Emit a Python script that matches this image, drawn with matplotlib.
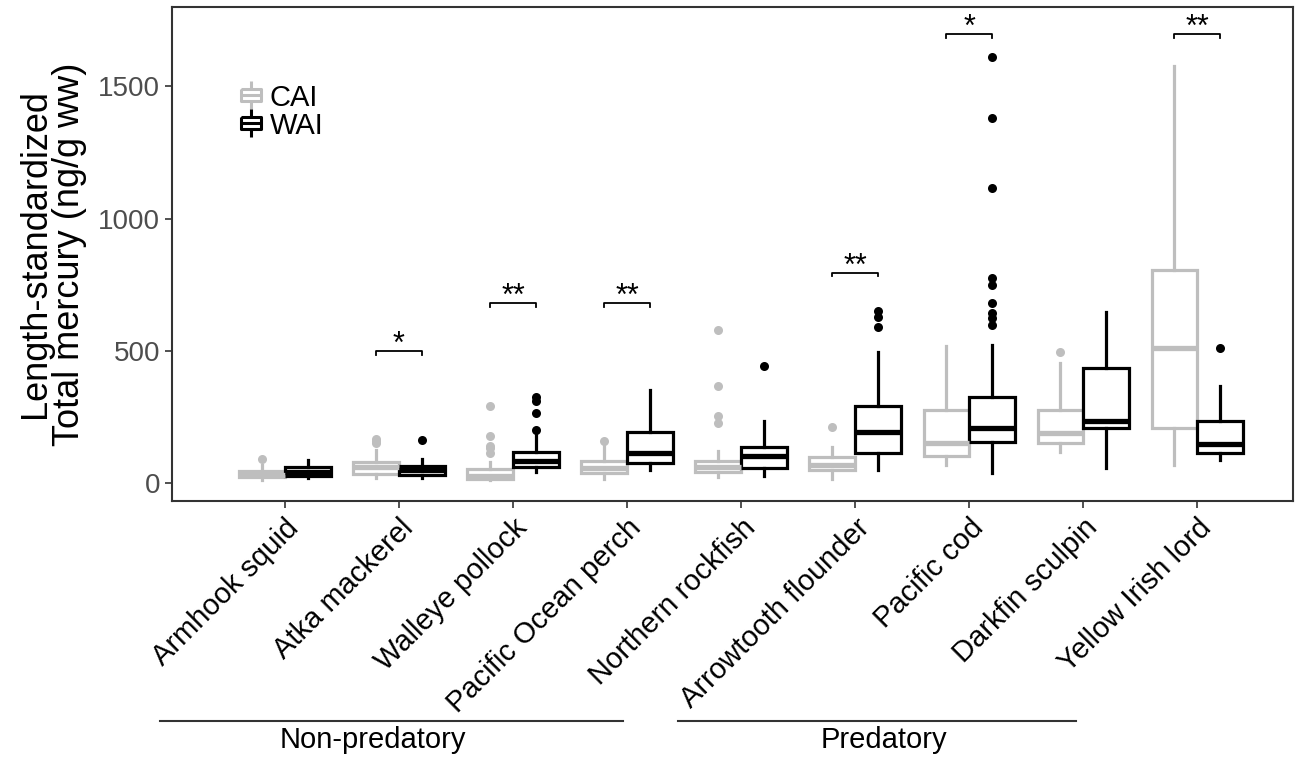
import numpy as np
import matplotlib
matplotlib.use("Agg")
import matplotlib.pyplot as plt
from matplotlib.lines import Line2D
from matplotlib.path import Path

plt.rcParams["font.family"] = ["Liberation Sans", "DejaVu Sans"]

species = ["Armhook squid", "Atka mackerel", "Walleye pollock", "Pacific Ocean perch",
           "Northern rockfish", "Arrowtooth flounder", "Pacific cod", "Darkfin sculpin",
           "Yellow Irish lord"]

# CAI box statistics (ng/g ww)
cai_lo = [11, 19, 10, 14, 24, 15, 68, 116, 68]
cai_q1 = [22, 33, 15, 39, 42, 49, 102, 150, 209]
cai_med = [30, 60, 25, 58, 60, 68, 150, 190, 512]
cai_q3 = [46, 81, 52, 83, 84, 97, 276, 276, 807]
cai_hi = [68, 125, 81, 145, 121, 137, 520, 453, 1576]
cai_out = [[91], [150, 158, 165], [115, 131, 141, 177, 292], [157],
           [228, 255, 367, 579], [213], [], [497], []]

# WAI box statistics
wai_lo = [18, 18, 43, 49, 27, 49, 39, 56, 87]
wai_q1 = [26, 30, 59, 77, 56, 112, 156, 207, 115]
wai_med = [42, 48, 85, 112, 102, 192, 207, 236, 148]
wai_q3 = [62, 64, 117, 194, 137, 293, 327, 434, 235]
wai_hi = [87, 91, 190, 352, 236, 497, 523, 645, 365]
wai_out = [[], [163], [200, 266, 312, 324], [], [443], [590, 626, 652],
           [598, 624, 642, 680, 747, 775, 1116, 1381, 1610], [], [512]]

# significance brackets
sig_idx = [1, 2, 3, 5, 6, 8]
sig_lab = ["*", "**", "**", "**", "*", "**"]
sig_y = [500, 680, 680, 796, 1699, 1699]

GRAY = "#bebebe"
BLACK = "#000000"


def stats_for(lo, q1, med, q3, hi, out):
    return [dict(whislo=a, q1=b, med=c, q3=d, whishi=e, fliers=f)
            for a, b, c, d, e, f in zip(lo, q1, med, q3, hi, out)]


def draw(ax, stats, pos, color):
    ax.bxp(stats, positions=pos, widths=0.4, showcaps=False, patch_artist=True,
           boxprops=dict(facecolor="white", edgecolor=color, linewidth=2.3),
           medianprops=dict(color=color, linewidth=3.8),
           whiskerprops=dict(color=color, linewidth=2.3),
           flierprops=dict(marker="o", markerfacecolor=color, markeredgecolor="none",
                           markersize=6.5), manage_ticks=False)


fig = plt.figure(figsize=(12.95, 7.57), dpi=100)
ax = fig.add_axes([172 / 1295, 1 - 501 / 757, 1121 / 1295, 494 / 757])

x = np.arange(1, len(species) + 1)
draw(ax, stats_for(cai_lo, cai_q1, cai_med, cai_q3, cai_hi, cai_out), x - 0.2, GRAY)
draw(ax, stats_for(wai_lo, wai_q1, wai_med, wai_q3, wai_hi, wai_out), x + 0.2, BLACK)

for i, lab, y in zip(sig_idx, sig_lab, sig_y):
    xc = x[i]
    ax.plot([xc - 0.2, xc - 0.2, xc + 0.2, xc + 0.2], [y - 15, y, y, y - 15],
            color="black", lw=1.3)
    ax.annotate(lab, (xc, y), xytext=(0, -1.5), textcoords="offset points",
                ha="center", va="baseline", fontsize=22)

ax.set_xlim(0.01, 9.84)
ax.set_ylim(-68, 1800)
ax.set_yticks([0, 500, 1000, 1500])
ax.set_xticks(x)
ax.set_xticklabels(species, rotation=45, ha="right", va="top",
                   rotation_mode="anchor", fontsize=21)
ax.tick_params(axis="y", labelsize=20, labelcolor="#4d4d4d", color="#333333",
               length=5, width=1.2)
ax.tick_params(axis="x", color="#333333", length=5, width=1.2, pad=4)
for s in ax.spines.values():
    s.set_color("#333333")
    s.set_linewidth(1.5)
ax.set_ylabel("Length-standardized\nTotal mercury (ng/g ww)", fontsize=26,
              linespacing=0.95, labelpad=8)

# legend with box glyphs
glyph = Path([(0, 1), (0, 0.45), (-0.7, 0.45), (0.7, 0.45), (0.7, -0.45), (-0.7, -0.45),
              (-0.7, 0.45), (-0.7, 0), (0.7, 0), (0, -0.45), (0, -1)],
             [Path.MOVETO, Path.LINETO, Path.MOVETO, Path.LINETO, Path.LINETO, Path.LINETO,
              Path.LINETO, Path.MOVETO, Path.LINETO, Path.MOVETO, Path.LINETO])
handles = [Line2D([], [], ls="none", marker=glyph, markersize=20, markerfacecolor="none",
                  markeredgecolor=c, markeredgewidth=2.2) for c in (GRAY, BLACK)]
ax.legend(handles, ["CAI", "WAI"], loc="upper left", bbox_to_anchor=(0.06, 0.845),
          frameon=False, fontsize=21, handlelength=0.8, handletextpad=0.25,
          labelspacing=0.0, borderpad=0, borderaxespad=0)

# feeding group bars
W, H = 1295, 757
for x0, x1, xt, name in [(160, 623, 373, "Non-predatory"), (678, 1076, 884, "Predatory")]:
    fig.add_artist(Line2D([x0 / W, x1 / W], [1 - 721 / H] * 2, color="#333333", lw=1.5))
    fig.text(xt / W, 1 - 740 / H, name, ha="center", va="center", fontsize=21)

fig.savefig("out.png", dpi=100)
